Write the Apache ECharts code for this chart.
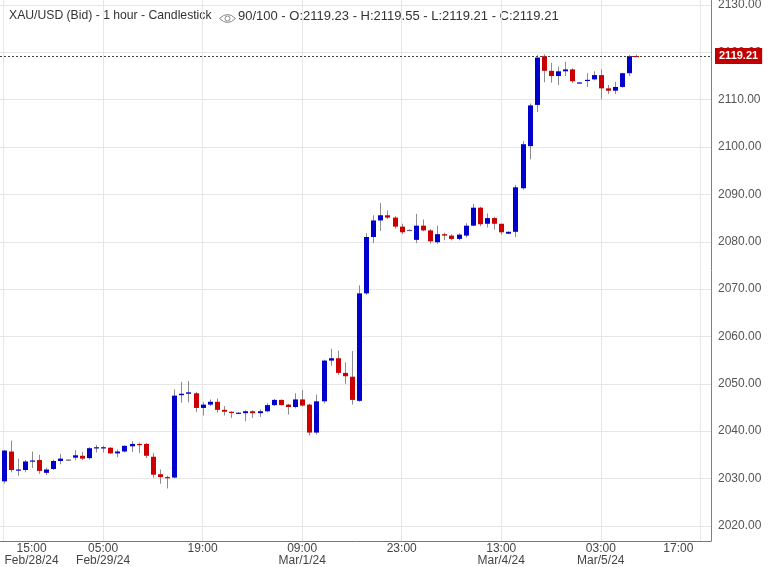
<!DOCTYPE html>
<html>
<head>
<meta charset="utf-8">
<script src="https://cdn.jsdelivr.net/npm/echarts@6/dist/echarts.min.js"></script>
<style>
html,body{margin:0;padding:0;background:#fff;}
#chart{width:768px;height:567px;}
</style>
</head>
<body>
<div id="chart"></div>
<script>
// Hourly XAU/USD bid candles, index 0 = 15:00 Feb/28/24
const openVals = [2029.4,2035.7,2031.8,2031.8,2033.6,2033.9,2031.2,2032.0,2033.7,2034.0,
  2034.4,2034.8,2034.3,2036.4,2036.5,2036.5,2035.3,2035.7,2036.8,2037.3,
  2037.3,2034.6,2030.9,2030.3,2030.2,2047.6,2047.9,2048.0,2044.9,2045.6,
  2046.2,2044.5,2044.1,2043.85,2043.8,2044.2,2043.8,2044.2,2045.5,2046.6,
  2045.6,2045.1,2046.7,2045.6,2039.7,2046.3,2054.9,2055.4,2052.3,2051.5,
  2046.4,2069.1,2081.0,2084.5,2085.6,2085.1,2083.2,2082.5,2080.4,2083.4,
  2082.4,2079.9,2081.6,2081.3,2080.6,2081.3,2083.4,2087.2,2083.8,2085.0,
  2083.8,2081.7,2082.1,2091.3,2100.2,2108.9,2119.2,2116.1,2115.0,2116.0,
  2116.4,2113.6,2114.0,2114.3,2115.2,2112.4,2111.9,2112.7,2115.6,2119.23];
const closeVals = [2035.9,2031.8,2031.9,2033.6,2033.8,2031.6,2031.9,2033.7,2034.2,2034.0,
  2034.9,2034.2,2036.4,2036.6,2036.6,2035.3,2035.7,2036.9,2037.3,2037.1,
  2034.8,2030.8,2030.3,2030.2,2047.5,2047.9,2048.2,2044.9,2045.6,2046.2,
  2044.5,2044.1,2043.9,2043.9,2044.2,2043.8,2044.2,2045.5,2046.6,2045.5,
  2045.1,2046.7,2045.4,2039.7,2046.3,2054.9,2055.4,2052.3,2051.6,2046.6,
  2069.1,2081.0,2084.5,2085.6,2085.1,2083.2,2082.0,2082.5,2083.4,2082.4,
  2080.1,2081.6,2081.3,2080.6,2081.5,2083.4,2087.2,2083.7,2085.0,2083.8,
  2082.0,2082.1,2091.5,2100.6,2108.8,2118.9,2116.1,2115.0,2116.0,2116.4,
  2113.9,2113.65,2114.2,2115.2,2112.4,2111.9,2112.7,2115.6,2119.2,2119.21];
const lowVals = [2029.0,2031.3,2030.6,2031.3,2032.2,2031.0,2030.7,2031.8,2033.0,2034.0,
  2033.9,2033.9,2034.0,2035.5,2035.5,2035.2,2034.5,2035.5,2035.6,2035.4,
  2034.3,2030.2,2028.9,2027.9,2030.0,2046.0,2046.1,2044.0,2043.3,2045.3,
  2043.9,2043.3,2042.8,2043.8,2042.1,2042.8,2043.0,2044.0,2045.3,2045.4,
  2043.5,2044.8,2045.2,2039.1,2039.3,2045.9,2053.8,2051.9,2050.0,2045.6,
  2046.2,2068.8,2079.7,2082.3,2084.8,2082.8,2081.6,2082.4,2079.7,2082.2,
  2079.6,2079.6,2080.3,2080.3,2080.3,2080.9,2083.3,2083.3,2083.0,2082.6,
  2081.5,2081.6,2081.0,2091.0,2097.4,2107.4,2113.7,2113.6,2113.1,2115.0,
  2113.5,2113.5,2112.7,2114.1,2110.1,2111.2,2111.2,2112.5,2115.0,2119.21];
const highVals = [2036.0,2038.0,2034.2,2033.9,2035.7,2035.0,2032.3,2034.0,2035.2,2034.1,
  2036.0,2035.6,2036.6,2037.1,2036.9,2036.6,2036.1,2037.0,2037.9,2037.6,
  2037.5,2035.4,2031.9,2030.6,2048.8,2050.4,2050.6,2048.3,2046.1,2046.7,
  2046.9,2045.3,2044.2,2044.0,2044.4,2044.4,2044.6,2045.9,2046.8,2046.7,
  2045.8,2048.0,2048.7,2045.8,2047.7,2055.1,2057.4,2057.0,2054.5,2056.9,
  2070.8,2081.8,2085.6,2088.2,2086.6,2085.4,2083.8,2082.6,2085.9,2084.7,
  2082.7,2083.4,2081.9,2081.6,2081.8,2083.9,2088.0,2087.4,2086.0,2085.3,
  2083.8,2082.2,2092.0,2101.3,2109.2,2119.4,2119.6,2117.8,2117.0,2118.0,
  2116.6,2113.7,2115.6,2116.0,2116.4,2113.1,2113.8,2115.7,2119.4,2119.55];

const tickIndex = [0, 14, 28, 42, 56, 70, 84, 98];
const tickLabels = ['15:00\nFeb/28/24', '05:00\nFeb/29/24', '19:00', '09:00\nMar/1/24',
  '23:00', '13:00\nMar/4/24', '03:00\nMar/5/24', '17:00'];
const priceTicks = [2020, 2030, 2040, 2050, 2060, 2070, 2080, 2090, 2100, 2110, 2120, 2130];
const lastPrice = 2119.21;
const titleLeft = 'XAU/USD (Bid) - 1 hour - Candlestick';
const titleRight = '90/100 - O:2119.23 - H:2119.55 - L:2119.21 - C:2119.21';

const candleData = openVals.map((o, i) => [i, o, closeVals[i], lowVals[i], highVals[i]]);

const FONT = 'Arial, "Liberation Sans", sans-serif';
const chart = echarts.init(document.getElementById('chart'), null, {renderer: 'canvas'});

chart.setOption({
  animation: false,
  backgroundColor: '#ffffff',
  grid: {left: 0, right: 57, top: 0, bottom: 26, containLabel: false, outerBoundsMode: 'none'},
  xAxis: {
    type: 'value',
    min: -0.5,
    max: 99.5,
    axisLine: {show: true, onZero: false, lineStyle: {color: '#777', width: 1}},
    axisTick: {show: false, customValues: tickIndex},
    splitLine: {show: true, lineStyle: {color: '#e6e6e6', width: 1}},
    axisLabel: {
      customValues: tickIndex,
      color: '#444',
      fontFamily: FONT,
      fontSize: 12,
      lineHeight: 12,
      margin: 2,
      hideOverlap: false,
      formatter: function (v) {
        const k = tickIndex.indexOf(v);
        const t = tickLabels[k];
        if (k === 0) {
          return t.split('\n').map(s => '{first|' + s + '}').join('\n');
        }
        if (k === tickLabels.length - 1) {
          return '{last|' + t + '}';
        }
        return t;
      },
      rich: {
        first: {padding: [0, 0, 0, 56], fontSize: 12, lineHeight: 12, color: '#444', fontFamily: FONT},
        last: {padding: [0, 44, 0, 0], fontSize: 12, lineHeight: 12, color: '#444', fontFamily: FONT}
      }
    }
  },
  yAxis: {
    type: 'value',
    position: 'right',
    min: 2016.8,
    max: 2131.06,
    axisLine: {show: true, onZero: false, lineStyle: {color: '#808080', width: 1}},
    axisTick: {show: false, customValues: priceTicks},
    splitLine: {show: true, lineStyle: {color: '#e6e6e6', width: 1}},
    axisLabel: {
      customValues: priceTicks,
      color: '#555',
      fontFamily: FONT,
      fontSize: 12,
      margin: 7,
      hideOverlap: false,
      formatter: v => v.toFixed(2)
    }
  },
  series: [
    {
      type: 'custom',
      data: candleData,
      encode: {x: 0, y: [1, 2, 3, 4]},
      clip: true,
      renderItem: function (params, api) {
        const i = api.value(0), o = api.value(1), c = api.value(2), l = api.value(3), h = api.value(4);
        const pO = api.coord([i, o]);
        const pC = api.coord([i, c]);
        const pL = api.coord([i, l]);
        const pH = api.coord([i, h]);
        const w = 5;
        const xc = Math.round(pO[0]) + 0.5;
        const col = c > o ? '#0000cc' : (c < o ? '#cc0000' : '#666666');
        const top = Math.min(pO[1], pC[1]);
        const bot = Math.max(pO[1], pC[1]);
        return {
          type: 'group',
          children: [
            {type: 'line', shape: {x1: xc, y1: pH[1], x2: xc, y2: pL[1]},
              style: {stroke: '#8c8c8c', lineWidth: 1}},
            {type: 'rect', shape: {x: xc - w / 2, y: top, width: w, height: Math.max(bot - top, 1.2)},
              style: {fill: col, stroke: null}}
          ]
        };
      },
      markLine: {
        silent: true,
        symbol: ['none', 'none'],
        lineStyle: {color: '#444', type: [2, 2], width: 1},
        label: {
          show: true,
          position: 'end',
          distance: 4,
          formatter: () => lastPrice.toFixed(2),
          backgroundColor: '#c00000',
          color: '#ffffff',
          fontWeight: 'bold',
          fontFamily: FONT,
          fontSize: 11,
          padding: [3, 4, 2, 4]
        },
        data: [{yAxis: lastPrice}]
      }
    }
  ],
  graphic: [
    {type: 'text', left: 9, top: 10, style: {text: titleLeft, fill: '#333', font: '12.2px ' + FONT}},
    {type: 'group', left: 217, top: 12, children: [
      {type: 'bezierCurve', shape: {x1: 0, y1: 4.5, x2: 16, y2: 4.5, cpx1: 8, cpy1: -3.5}, style: {stroke: '#888', lineWidth: 1, fill: null}},
      {type: 'bezierCurve', shape: {x1: 0, y1: 4.5, x2: 16, y2: 4.5, cpx1: 8, cpy1: 12.5}, style: {stroke: '#888', lineWidth: 1, fill: null}},
      {type: 'circle', shape: {cx: 8, cy: 4.5, r: 2.5}, style: {stroke: '#888', lineWidth: 1, fill: '#fff'}}
    ]},
    {type: 'text', left: 238, top: 10, style: {text: titleRight, fill: '#333', font: '13px ' + FONT}}
  ]
});
</script>
</body>
</html>
